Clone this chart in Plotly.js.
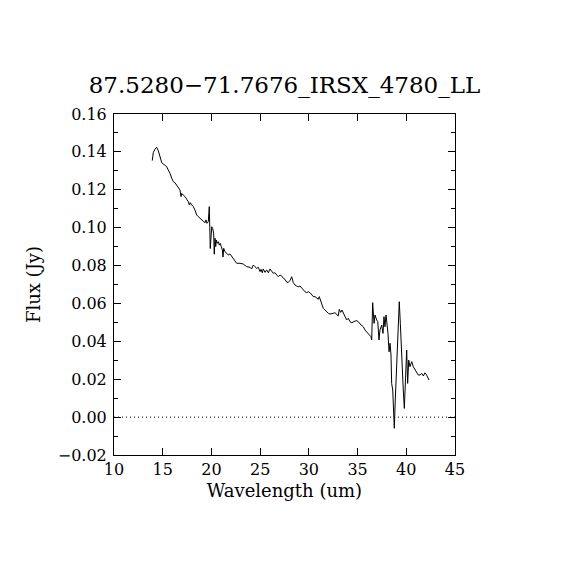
<!DOCTYPE html>
<html>
<head>
<meta charset="utf-8">
<script src="https://cdn.plot.ly/plotly-3.0.1.min.js"></script>
<style>html,body{margin:0;padding:0;background:#fff;}#chart{width:570px;height:570px;}</style>
</head>
<body>
<div id="chart"></div>
<script>
const titleText = "87.5280\u221271.7676_IRSX_4780_LL";
const xLabel = "Wavelength (um)";
const yLabel = "Flux (Jy)";

const wavelength = [
13.93,14.03,14.21,14.38,14.55,14.72,14.90,15.06,15.23,15.41,15.57,15.75,15.92,16.09,16.26,16.44,16.60,16.77,16.88,16.95,
17.11,17.29,17.46,17.63,17.73,17.83,17.97,18.14,18.31,18.49,18.65,18.83,19.00,19.17,19.34,19.44,19.55,19.68,19.78,19.88,
20.03,20.13,20.23,20.29,20.37,20.44,20.50,20.60,20.71,20.81,20.91,21.01,21.12,21.19,21.26,21.39,21.57,21.73,21.91,22.24,
22.59,22.93,23.27,23.62,23.96,24.13,24.30,24.47,24.65,24.81,24.99,25.09,25.22,25.32,25.50,25.67,25.84,26.01,26.19,26.35,
26.52,26.70,26.86,27.04,27.21,27.38,27.55,27.73,27.89,28.06,28.24,28.40,28.58,28.75,28.92,29.09,29.27,29.43,29.60,29.78,
29.94,30.12,30.29,30.46,30.63,30.80,30.97,31.07,31.22,31.32,31.48,31.66,31.83,32.00,32.17,32.34,32.51,32.68,32.86,33.02,
33.12,33.27,33.40,33.53,33.71,33.88,34.05,34.22,34.40,34.56,34.74,34.91,35.07,35.25,35.42,35.59,35.76,35.94,36.10,36.28,
36.38,36.45,36.55,36.69,36.79,36.96,37.07,37.20,37.30,37.48,37.61,37.71,37.81,37.92,38.02,38.12,38.23,38.33,38.43,38.50,
38.61,38.71,38.77,38.87,38.97,39.08,39.18,39.28,39.39,39.53,39.69,39.80,39.90,40.04,40.14,40.25,40.38,40.56,40.72,40.89,
41.07,41.23,41.41,41.58,41.75,41.92,42.09,42.33
];

const flux = [
0.1354,0.1396,0.1415,0.1424,0.1406,0.1375,0.1343,0.1336,0.1331,0.1322,0.1304,0.1287,0.1261,0.1243,0.1237,0.1225,0.1216,0.1199,0.1164,0.1181,
0.1172,0.1164,0.1150,0.1137,0.1120,0.1132,0.1120,0.1111,0.1093,0.1067,0.1058,0.1049,0.1041,0.1035,0.1026,0.1041,0.1023,0.1032,0.1111,0.0890,
0.1005,0.0996,0.0970,0.0860,0.0944,0.0900,0.0935,0.0917,0.0926,0.0908,0.0917,0.0900,0.0882,0.0845,0.0891,0.0873,0.0861,0.0856,0.0861,0.0838,
0.0812,0.0812,0.0808,0.0794,0.0791,0.0782,0.0803,0.0794,0.0785,0.0791,0.0768,0.0780,0.0762,0.0782,0.0764,0.0777,0.0762,0.0782,0.0768,0.0759,
0.0762,0.0750,0.0741,0.0750,0.0745,0.0733,0.0727,0.0712,0.0712,0.0720,0.0741,0.0710,0.0697,0.0692,0.0688,0.0692,0.0680,0.0671,0.0662,0.0657,
0.0662,0.0657,0.0645,0.0636,0.0636,0.0630,0.0622,0.0636,0.0609,0.0592,0.0574,0.0565,0.0556,0.0548,0.0544,0.0544,0.0548,0.0551,0.0543,0.0534,
0.0569,0.0553,0.0565,0.0551,0.0530,0.0513,0.0522,0.0504,0.0498,0.0504,0.0507,0.0509,0.0504,0.0492,0.0486,0.0477,0.0460,0.0451,0.0442,0.0433,
0.0424,0.0407,0.0604,0.0495,0.0539,0.0513,0.0504,0.0407,0.0460,0.0486,0.0442,0.0530,0.0477,0.0539,0.0495,0.0442,0.0345,0.0390,0.0328,0.0178,
0.0143,0.0002,-0.0059,0.0090,0.0231,0.0407,0.0548,0.0609,0.0495,0.0284,0.0143,0.0046,0.0143,0.0354,0.0178,0.0301,0.0266,0.0293,0.0266,0.0249,
0.0231,0.0222,0.0222,0.0231,0.0217,0.0234,0.0222,0.0196
];

const xTicks = [10, 15, 20, 25, 30, 35, 40, 45];
const yTicks = [-0.02, 0.00, 0.02, 0.04, 0.06, 0.08, 0.10, 0.12, 0.14, 0.16];
const yTickText = ["\u22120.02","0.00","0.02","0.04","0.06","0.08","0.10","0.12","0.14","0.16"];
const xRange = [10, 45];
const yRange = [-0.02, 0.16];
const zeroLevel = 0;

const FONT = "DejaVu Serif, Liberation Serif, serif";

const trace = {
  x: wavelength, y: flux, type: 'scatter', mode: 'lines',
  line: {color: '#000', width: 1}, hoverinfo: 'skip'
};

const layout = {
  width: 570, height: 570,
  paper_bgcolor: '#fff', plot_bgcolor: '#fff',
  margin: {l: 114, r: 115, t: 114, b: 115},
  showlegend: false,
  font: {family: FONT, color: '#000', size: 16},
  title: {text: titleText, font: {family: FONT, size: 23, color: '#000'}, x: 0.5, xanchor: 'center', y: 1 - 85/570, yanchor: 'middle', xref: 'paper'},
  xaxis: {
    range: xRange, tickvals: xTicks, ticktext: xTicks.map(String),
    ticks: 'inside', ticklen: 7, tickwidth: 1, tickcolor: '#000',
    showline: true, linecolor: '#000', linewidth: 1, mirror: 'allticks',
    showgrid: false, zeroline: false,
    tickfont: {family: FONT, size: 16, color: '#000'},
    title: {text: xLabel, font: {family: FONT, size: 18, color: '#000'}, standoff: 6},
    automargin: false
  },
  yaxis: {
    range: yRange, tickvals: yTicks, ticktext: yTickText,
    ticks: 'inside', ticklen: 7, tickwidth: 1, tickcolor: '#000',
    minor: {dtick: 0.01, ticks: 'inside', ticklen: 4, tickcolor: '#000', showgrid: false},
    showline: true, linecolor: '#000', linewidth: 1, mirror: 'allticks',
    showgrid: false, zeroline: false,
    ticklabelstandoff: 3,
    tickfont: {family: FONT, size: 16, color: '#000'},
    title: {text: yLabel, font: {family: FONT, size: 18, color: '#000'}, standoff: 12},
    automargin: false
  },
  shapes: [{
    type: 'line', xref: 'paper', yref: 'y', x0: 0, x1: 1, y0: zeroLevel, y1: zeroLevel,
    line: {color: '#000', width: 1, dash: '1px,3px'}, layer: 'below'
  }]
};

Plotly.newPlot('chart', [trace], layout, {staticPlot: true, displayModeBar: false});
</script>
</body>
</html>
